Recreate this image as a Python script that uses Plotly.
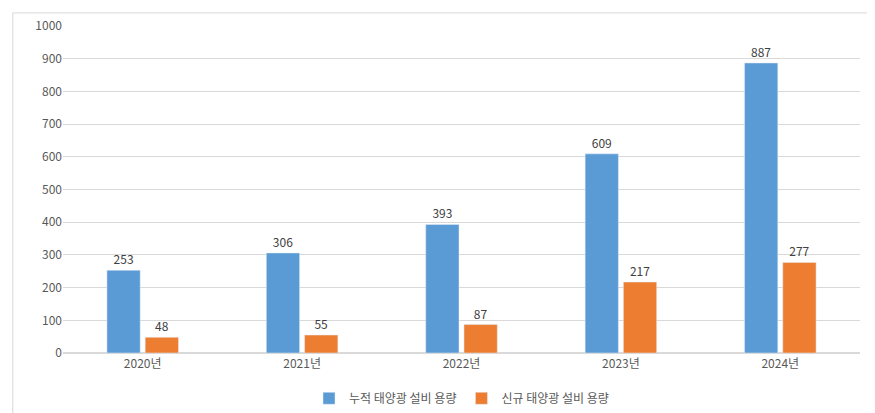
import plotly.graph_objects as go

years = ['2020년', '2021년', '2022년', '2023년', '2024년']
cumulative = [253, 306, 393, 609, 887]
new = [48, 55, 87, 217, 277]

font = 'Noto Sans CJK KR'

fig = go.Figure()
fig.add_trace(go.Bar(x=years, y=cumulative, name='누적 태양광 설비 용량',
                     marker_color='#5B9BD5', text=cumulative, textposition='outside',
                     textfont=dict(color='#404040', size=12)))
fig.add_trace(go.Bar(x=years, y=new, name='신규 태양광 설비 용량',
                     marker_color='#ED7D31', text=new, textposition='outside',
                     textfont=dict(color='#404040', size=12)))

fig.update_layout(
    width=875, height=413,
    margin=dict(l=55, r=23, t=18, b=68, autoexpand=False),
    paper_bgcolor='white', plot_bgcolor='white',
    font=dict(family=font, size=12, color='#595959'),
    bargap=0.52, bargroupgap=0.13,
    showlegend=True,
    legend=dict(orientation='h', x=0.5, xanchor='center', yref='container',
                y=0.055, yanchor='middle',
                font=dict(size=12, color='#595959')),
    shapes=[dict(type='rect', xref='paper', yref='paper', x0=-0.063, x1=1.02,
                 y0=-0.193, y1=1.04, line=dict(color='#D9D9D9', width=1))],
)
fig.update_yaxes(range=[0, 1000], dtick=100, gridcolor='#D9D9D9', zeroline=True,
                 zerolinecolor='#D9D9D9', tickfont=dict(size=12, color='#595959'))
fig.update_xaxes(showline=True, linecolor='#D9D9D9', tickfont=dict(size=12, color='#595959'))
for t in fig.data:
    t.cliponaxis = False

fig.write_html('out.html')
